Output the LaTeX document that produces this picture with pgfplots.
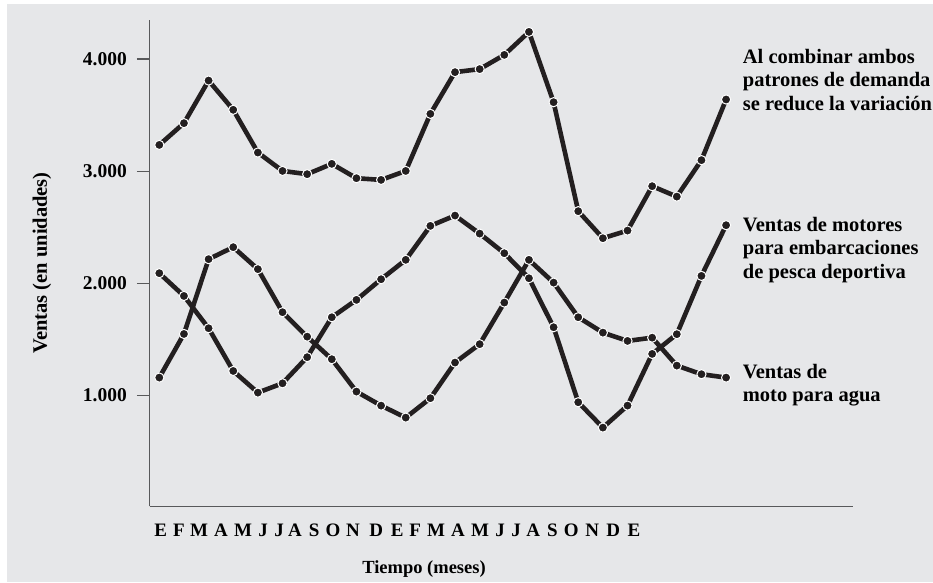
\documentclass[border=0pt]{standalone}
\usepackage{fontspec}
\setmainfont{Liberation Serif}
\usepackage{pgfplots}
\pgfplotsset{compat=1.18}
\definecolor{bg}{HTML}{E6E7E9}
\definecolor{ln}{HTML}{231F20}
\definecolor{ax}{HTML}{58595B}
\pgfplotsset{serie/.style={line width=4.6pt, draw=ln, line join=round, mark=*, mark size=4.6pt,
     mark options={fill=ln, draw=white, line width=1pt, solid}}}
\begin{document}
\begin{tikzpicture}[x=1pt,y=1pt]
\fill[white] (0,0) rectangle (933,582);
\fill[bg] (7,0) rectangle (933,578);
\path[use as bounding box] (0,0) rectangle (933,582);
\begin{axis}[
  at={(149.5pt,75.7pt)}, anchor=south west,
  scale only axis, width=703.5pt, height=486.3pt,
  xmin=-0.398, xmax=28.15, ymin=13, ymax=4350,
  axis x line=bottom, axis y line=left,
  axis line style={-, draw=ax, line width=1.5pt},
  tick align=outside,
  ytick={1000,2000,3000,4000},
  yticklabels={1.000,2.000,3.000,4.000},
  major tick length=12.5pt,
  ytick style={draw=ax, line width=1.5pt},
  yticklabel style={anchor=east, inner sep=0pt, xshift=-10pt, font=\bfseries\fontsize{19.5}{23}\selectfont},
  xtick={0.057,0.80,1.61,2.50,3.40,4.21,4.86,5.51,6.28,7.05,7.86,8.80,9.65,10.38,11.23,12.12,13.02,13.83,14.48,15.17,15.95,16.72,17.57,18.42,19.26},
  xticklabels={E,F,M,A,M,J,J,A,S,O,N,D,E,F,M,A,M,J,J,A,S,O,N,D,E},
  xtick style={draw=none},
  xticklabel style={anchor=base, inner sep=0pt, yshift=-18pt, font=\bfseries\fontsize{19}{22}\selectfont},
  clip=false,
]
\addplot[serie] coordinates {(0,3236)(1,3430)(2,3810)(3,3549)(4,3168)(5,3004)(6,2975)(7,3067)(8,2939)(9,2924)(10,3004)(11,3513)(12,3885)(13,3912)(14,4039)(15,4244)(16,3617)(17,2645)(18,2404)(19,2472)(20,2868)(21,2775)(22,3100)(23,3641)};
\addplot[serie] coordinates {(0,2092)(1,1889)(2,1601)(3,1220)(4,1027)(5,1110)(6,1343)(7,1699)(8,1854)(9,2038)(10,2211)(11,2514)(12,2606)(13,2445)(14,2270)(15,2047)(16,1610)(17,941)(18,715)(19,911)(20,1372)(21,1548)(22,2068)(23,2520)};
\addplot[serie] coordinates {(0,1161)(1,1550)(2,2217)(3,2324)(4,2128)(5,1744)(6,1526)(7,1325)(8,1036)(9,911)(10,804)(11,977)(12,1295)(13,1459)(14,1830)(15,2211)(16,2008)(17,1699)(18,1562)(19,1488)(20,1517)(21,1268)(22,1191)(23,1161)};
\end{axis}
\node[anchor=west, align=left, inner sep=0pt, font=\bfseries\fontsize{20.5}{23.5}\selectfont] at (742.7,502) {Al combinar ambos\\patrones de demanda\\se reduce la variación};
\node[anchor=west, align=left, inner sep=0pt, font=\bfseries\fontsize{20.5}{23.5}\selectfont] at (742.7,332) {Ventas de motores\\para embarcaciones\\de pesca deportiva};
\node[anchor=west, align=left, inner sep=0pt, font=\bfseries\fontsize{20.5}{23.5}\selectfont] at (742.7,197) {Ventas de\\moto para agua};
\node[rotate=90, inner sep=0pt, font=\bfseries\fontsize{20.5}{24}\selectfont] at (42,319) {Ventas (en unidades)};
\node[inner sep=0pt, font=\bfseries\fontsize{18.5}{22}\selectfont] at (424,13) {Tiempo (meses)};
\end{tikzpicture}
\end{document}
